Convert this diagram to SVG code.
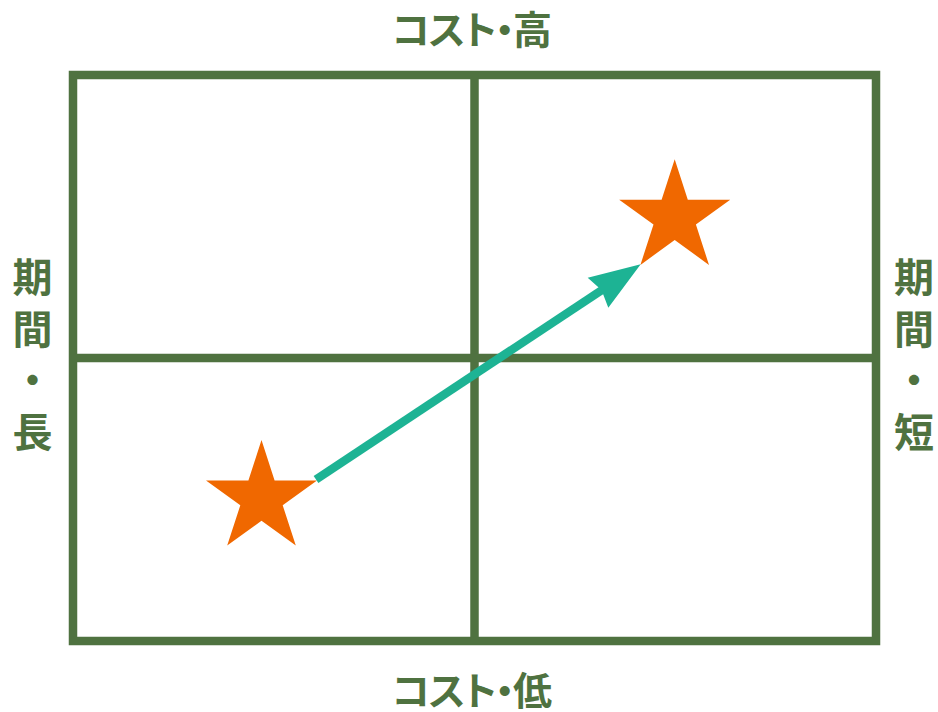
<svg xmlns="http://www.w3.org/2000/svg" width="938" height="712" viewBox="0 0 938 712">
<style>
.lbl{font-family:"Noto Sans CJK JP","Noto Sans CJK SC",sans-serif;font-weight:bold;fill:#4f7240;font-feature-settings:"palt";}
.vlbl{font-family:"Noto Sans CJK JP","Noto Sans CJK SC",sans-serif;font-weight:bold;fill:#4f7240;font-size:40px;writing-mode:vertical-rl;letter-spacing:11.5px;}
.grid{fill:none;stroke:#4f7240;stroke-width:8.5;}
.star{fill:#f06800;}
</style>
<defs>
<polygon id="star" points="0,-58.4 13.1,-18 55.5,-18 21.2,6.9 34.3,47.2 0,22.3 -34.3,47.2 -21.2,6.9 -55.5,-18 -13.1,-18"/>
</defs>
<g id="grid">
<rect class="grid" x="73" y="75" width="803" height="566"/>
<line class="grid" x1="474.5" y1="75" x2="474.5" y2="641"/>
<line class="grid" x1="73" y1="358" x2="876" y2="358"/>
</g>
<g id="label-top"><text class="lbl" x="392" y="44" font-size="39" textLength="160" lengthAdjust="spacing">コスト・高</text></g>
<g id="label-bottom"><text class="lbl" x="392" y="705" font-size="39" textLength="160" lengthAdjust="spacing">コスト・低</text></g>
<g id="label-left"><text class="vlbl" x="32.5" y="257">期間・長</text></g>
<g id="label-right"><text class="vlbl" x="914" y="257">期間・短</text></g>
<g id="star-start"><use href="#star" class="star" x="261.5" y="498.4"/></g>
<g id="star-end"><use href="#star" class="star" x="674.7" y="217.7"/></g>
<g id="connectors">
<line x1="316" y1="479.5" x2="608" y2="286" stroke="#1db394" stroke-width="8.5"/>
<polygon points="640.7,264.3 587.7,277.7 601.5,290 608.3,307.7" fill="#1db394"/>
</g>
</svg>
